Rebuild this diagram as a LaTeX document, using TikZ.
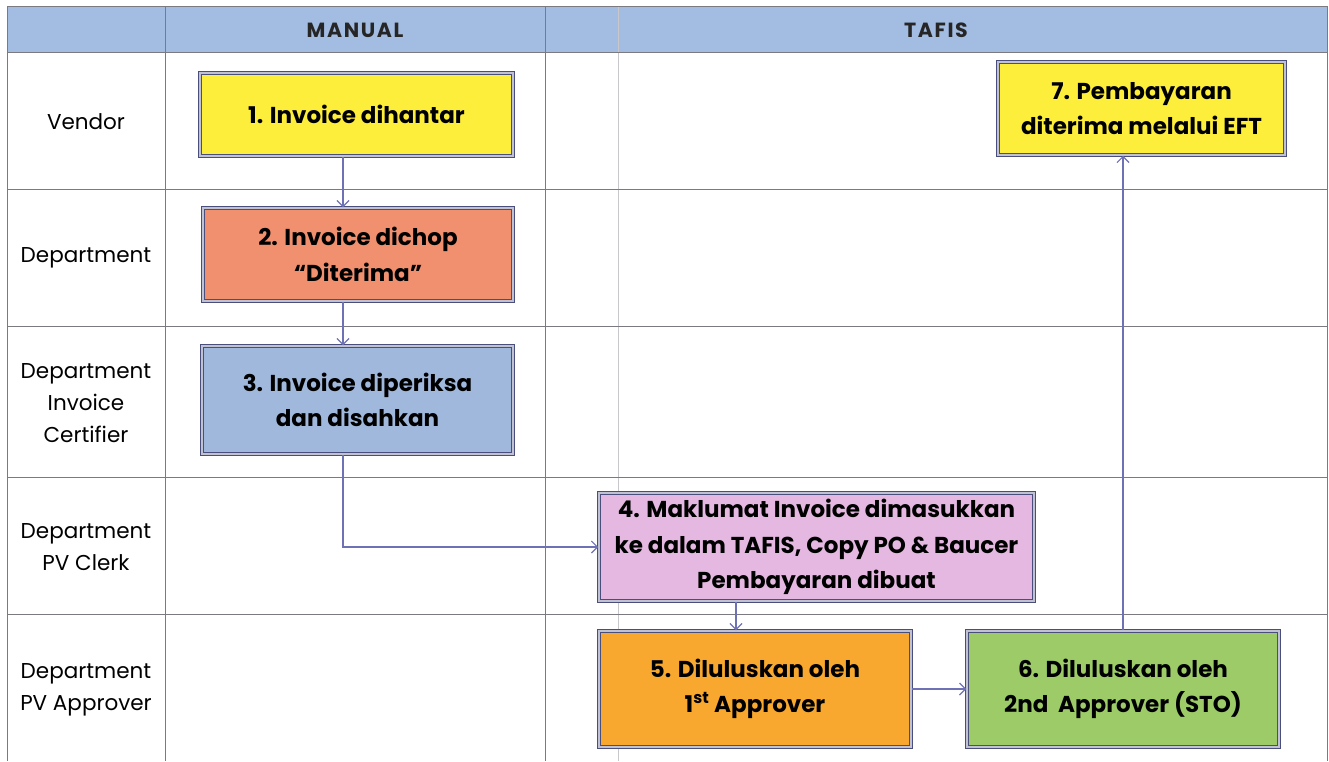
\documentclass[tikz,border=0pt]{standalone}
\usepackage{fontspec}
\setmainfont{Poppins}
\usetikzlibrary{arrows.meta}
\definecolor{gridc}{HTML}{7A7A80}
\definecolor{faintc}{HTML}{C8C8CC}
\definecolor{hdrc}{HTML}{A2BCE2}
\definecolor{edgec}{HTML}{4A4E7C}
\definecolor{arrc}{HTML}{6E72B4}
\definecolor{yelc}{HTML}{FCEE3A}
\definecolor{salc}{HTML}{F0906E}
\definecolor{bluc}{HTML}{A0B8DC}
\definecolor{pinc}{HTML}{E4B8E0}
\definecolor{orac}{HTML}{F8A82E}
\definecolor{grec}{HTML}{9CCB68}
\begin{document}
\begin{tikzpicture}[x=1pt,y=-1pt,
  gridline/.style={draw=gridc, line width=0.9pt},
  faint/.style={draw=faintc, line width=0.8pt},
  lane/.style={font=\fontsize{21.5}{32}\selectfont, align=center, text=black},
  hdr/.style={font=\fontsize{20.5}{24}\selectfont\bfseries\addfontfeature{LetterSpace=8}, text=black!85},
  proc/.style={draw=edgec, line width=1.5pt, double=white!65!edgec, double distance=1.1pt,
    align=center, font=\fontsize{23}{35.5}\selectfont\bfseries, text=black, inner sep=2pt},
  arr/.style={draw=arrc, line width=1.1pt, -{Straight Barb[length=6pt,width=12pt]}}]
\useasboundingbox (0,0) rectangle (1329,761);
\fill[white] (0,0) rectangle (1329,761);
% header band
\fill[hdrc] (7,6) rectangle (1327,52);
% faint scan line
\draw[faint] (618,6) -- (618,761);
% grid
\foreach \xx in {7,165,545,1327} \draw[gridline] (\xx,6) -- (\xx,761);
\foreach \yy in {6,52,189,326,477,614} \draw[gridline] (7,\yy) -- (1327,\yy);
% headers
\node[hdr] (hman) at (355,30) {MANUAL};
\node[hdr] (htaf) at (936,30) {TAFIS};
% lane labels
\node[lane] (l1) at (86,122) {Vendor};
\node[lane] (l2) at (86,258) {Department};
\node[lane] (l3) at (86,403) {Department\\Invoice\\Certifier};
\node[lane] (l4) at (86,547) {Department\\PV Clerk};
\node[lane] (l5) at (86,690) {Department\\PV Approver};
% process boxes
\node[proc, fill=yelc, minimum width=313pt, minimum height=83pt] (b1) at (356.5,114.5) {1. Invoice dihantar};
\node[proc, fill=salc, minimum width=310pt, minimum height=93pt] (b2) at (358,254.5) {2. Invoice dichop\\``Diterima''};
\node[proc, fill=bluc, minimum width=311pt, minimum height=108pt] (b3) at (357.5,400) {3. Invoice diperiksa\\dan disahkan};
\node[proc, fill=pinc, minimum width=435pt, minimum height=108pt] (b4) at (816.5,547) {4. Maklumat Invoice dimasukkan\\ke dalam TAFIS, Copy PO \& Baucer\\Pembayaran dibuat};
\node[proc, fill=orac, minimum width=312pt, minimum height=116pt] (b5) at (755,689) {5. Diluluskan oleh\\1\textsuperscript{st} Approver};
\node[proc, fill=grec, minimum width=312pt, minimum height=116pt] (b6) at (1123,689) {6. Diluluskan oleh\\2nd~~Approver (STO)};
\node[proc, fill=yelc, minimum width=287pt, minimum height=93pt] (b7) at (1141.5,108.5) {7. Pembayaran\\diterima melalui EFT};
% connectors
\coordinate (cA) at (343,0);
\coordinate (cB) at (736,0);
\draw[arr] (b1.south -| cA) -- (b2.north -| cA);
\draw[arr] (b2.south -| cA) -- (b3.north -| cA);
\draw[arr] (b3.south -| cA) |- (b4.west);
\draw[arr] (b4.south -| cB) -- (b5.north -| cB);
\draw[arr] (b5.east) -- (b6.west);
\draw[arr] (b6.north) -- (b7.south -| b6.north);
\end{tikzpicture}
\end{document}
